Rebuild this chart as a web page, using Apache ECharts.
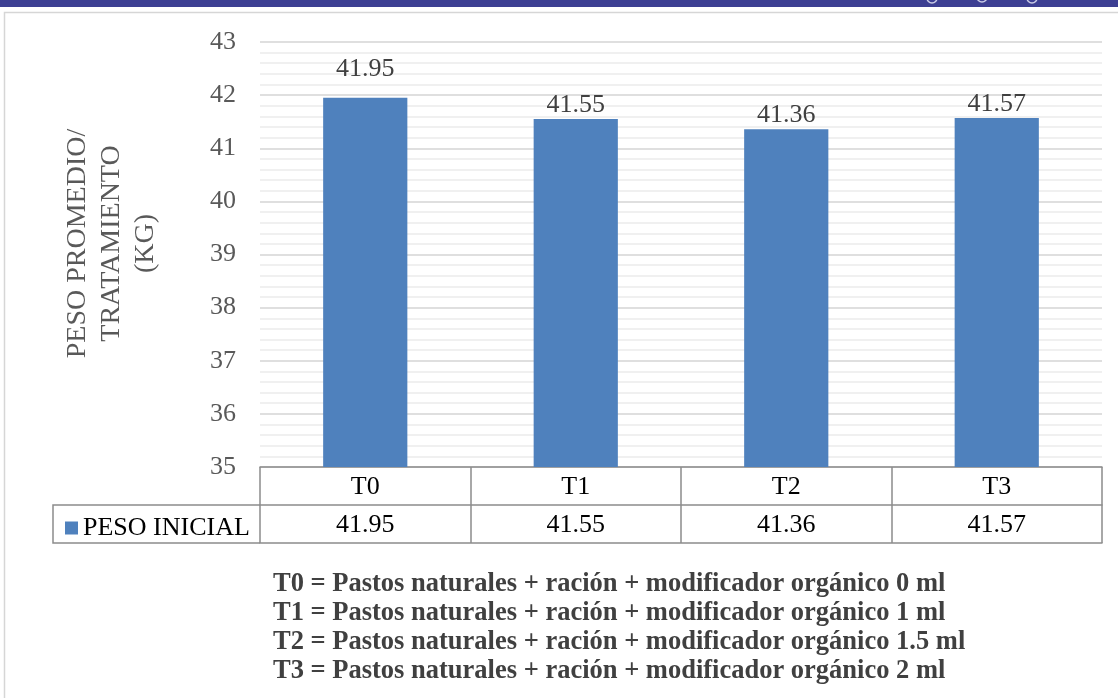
<!DOCTYPE html>
<html>
<head>
<meta charset="utf-8">
<script src="https://cdn.jsdelivr.net/npm/echarts@6/dist/echarts.min.js"></script>
<style>
  html, body { margin: 0; padding: 0; background: #ffffff; }
  #chart { width: 1118px; height: 698px; }
</style>
</head>
<body>
<div id="chart"></div>
<script>
// Treatments and initial mean weight per treatment (kg)
const categories = ['T0', 'T1', 'T2', 'T3'];
const seriesName = 'PESO INICIAL';
const pesoInicial = [41.95, 41.55, 41.36, 41.57];
const yTicks = { min: 35, max: 43, step: 1 };
const axisTitle = 'PESO PROMEDIO/\nTRATAMIENTO\n(KG)';
const notes = [
  'T0 = Pastos naturales + ración + modificador orgánico 0 ml',
  'T1 = Pastos naturales + ración + modificador orgánico 1 ml',
  'T2 = Pastos naturales + ración + modificador orgánico 1.5 ml',
  'T3 = Pastos naturales + ración + modificador orgánico 2 ml'
];

const FONT = "'Liberation Serif', 'Times New Roman', serif";
const W = 1118, H = 698;
const GRID = { left: 260, right: 16, top: 42, bottom: 231 };
const ROW = 38;               // height of one data-table row
const TABLE_LINE = '#8c8c8c';
const BAR = '#4f81bd';

const axisBottom = H - GRID.bottom;
const legendCellLeft = 53;

// the first label sits a little higher, clear of the 42 gridline
const barData = pesoInicial.map((v, i) => (i === 0 ? { value: v, label: { offset: [0, -15] } } : v));

const chart = echarts.init(document.getElementById('chart'), null, { renderer: 'canvas' });

const option = {
  backgroundColor: '#ffffff',
  animation: false,
  textStyle: { fontFamily: FONT },
  grid: { left: GRID.left, right: GRID.right, top: GRID.top, bottom: GRID.bottom, containLabel: false },
  legend: {
    data: [seriesName],
    left: 60, top: axisBottom + ROW + 5,
    icon: 'rect', itemWidth: 13, itemHeight: 13, itemGap: 6,
    textStyle: { fontFamily: FONT, fontSize: 26, color: '#000000', padding: [3, 0, 0, 0] }
  },
  xAxis: [
    {
      // header row of the data table: treatment names
      type: 'category', data: categories, position: 'bottom',
      axisLine: { show: true, lineStyle: { color: TABLE_LINE, width: 1.5 } },
      axisTick: { show: true, alignWithLabel: false, length: ROW * 2, lineStyle: { color: TABLE_LINE, width: 1.5 } },
      axisLabel: { color: '#000000', fontFamily: FONT, fontSize: 26, margin: 7 }
    },
    {
      // value row of the data table
      type: 'category', data: pesoInicial.map(v => v.toFixed(2)), position: 'bottom', offset: ROW,
      axisLine: { show: true, lineStyle: { color: TABLE_LINE, width: 1.5 } },
      axisTick: { show: false },
      axisLabel: { color: '#000000', fontFamily: FONT, fontSize: 26, margin: 7 }
    },
    {
      // bottom border of the data table
      type: 'category', data: categories, position: 'bottom', offset: ROW * 2,
      axisLine: { show: true, lineStyle: { color: TABLE_LINE, width: 1.5 } },
      axisTick: { show: false },
      axisLabel: { show: false }
    }
  ],
  yAxis: {
    type: 'value', min: yTicks.min, max: yTicks.max, interval: yTicks.step,
    name: axisTitle, nameLocation: 'middle', nameGap: 97, nameRotate: 90,
    nameTextStyle: { fontFamily: FONT, fontSize: 28, color: '#595959', lineHeight: 34, padding: [0, 0, 0, 22] },
    axisLine: { show: false }, axisTick: { show: false },
    axisLabel: { color: '#595959', fontFamily: FONT, fontSize: 26, margin: 24 },
    splitLine: { show: true, lineStyle: { color: '#d4d4d4', width: 1.5 } },
    minorTick: { show: false, splitNumber: 5 },
    minorSplitLine: { show: true, lineStyle: { color: '#ececec', width: 1.5 } }
  },
  series: [{
    name: seriesName, type: 'bar', data: barData, xAxisIndex: 0,
    barWidth: '40%',
    itemStyle: { color: BAR },
    label: {
      show: true, position: 'top', distance: 1,
      fontFamily: FONT, fontSize: 26, color: '#404040',
      formatter: p => p.value.toFixed(2)
    }
  }],
  graphic: [
    // title band across the top
    { type: 'rect', left: 0, top: 0, shape: { width: W, height: 7 }, style: { fill: '#3d3f93' }, silent: true },
    { type: 'circle', shape: { cx: 932, cy: -2, r: 5 }, style: { fill: 'none', stroke: '#c9cbe6', lineWidth: 1.5 }, silent: true },
    { type: 'circle', shape: { cx: 982, cy: -3, r: 5 }, style: { fill: 'none', stroke: '#c9cbe6', lineWidth: 1.5 }, silent: true },
    { type: 'circle', shape: { cx: 1032, cy: -2, r: 5 }, style: { fill: 'none', stroke: '#c9cbe6', lineWidth: 1.5 }, silent: true },
    // panel frame
    { type: 'rect', shape: { x: 4.5, y: 12.5, width: W + 20, height: H + 20 }, style: { fill: 'none', stroke: '#d6d6d6', lineWidth: 1.5 }, silent: true, z: -1 },
    // legend cell of the data table
    { type: 'polyline', shape: { points: [[GRID.left, axisBottom + ROW], [legendCellLeft, axisBottom + ROW], [legendCellLeft, axisBottom + 2 * ROW], [GRID.left, axisBottom + 2 * ROW]] },
      style: { fill: 'none', stroke: TABLE_LINE, lineWidth: 1.5 }, silent: true },
    // treatment key
    ...notes.map((t, i) => ({
      type: 'text', left: 273, top: 571 + i * 29,
      style: { text: t, font: "bold 26.5px 'Liberation Serif', 'Times New Roman', serif", fill: '#404040' },
      silent: true
    }))
  ]
};

chart.setOption(option);
</script>
</body>
</html>
